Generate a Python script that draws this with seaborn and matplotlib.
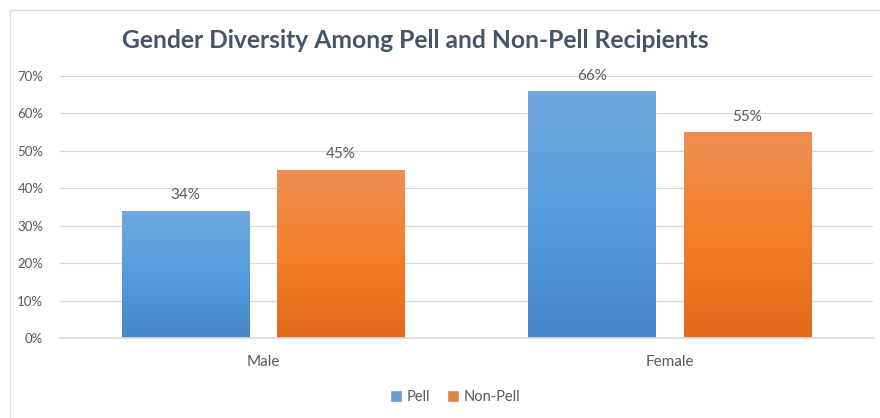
import pandas as pd
import numpy as np
import matplotlib.pyplot as plt
import seaborn as sns
from matplotlib.colors import LinearSegmentedColormap
from matplotlib.patches import Rectangle

# data
genders = ["Male", "Female"]
groups = ["Pell", "Non-Pell"]
pell = [0.34, 0.66]
non_pell = [0.45, 0.55]

df = pd.DataFrame({
    "Gender": genders * 2,
    "Group": [groups[0]] * 2 + [groups[1]] * 2,
    "Share": pell + non_pell,
})

sns.set_theme(style="white")
plt.rcParams['font.family'] = ['Lato', 'DejaVu Sans']
text_col = "#595959"

fig = plt.figure(figsize=(8.8, 4.18), dpi=100)
ax = fig.add_axes([60 / 880, 1 - 338 / 418, 813 / 880, 262 / 418])

palette = {"Pell": "#569DDD", "Non-Pell": "#F4812F"}
sns.barplot(data=df, x="Gender", y="Share", hue="Group", order=genders,
            hue_order=groups, palette=palette, width=0.765, gap=0.18,
            ax=ax, legend=True)

# gradient fill like the excel chart
grads = {
    "Pell": LinearSegmentedColormap.from_list("b", ["#4587C8", "#559CDE", "#70A7DC"]),
    "Non-Pell": LinearSegmentedColormap.from_list("o", ["#E1681A", "#F47F2A", "#F08E54"]),
}
grad = np.linspace(0, 1, 256).reshape(-1, 1)
for cont, g in zip(ax.containers, groups):
    for bar in cont:
        x0, y0 = bar.get_x(), bar.get_y()
        w, h = bar.get_width(), bar.get_height()
        im = ax.imshow(grad, cmap=grads[g], origin="lower", aspect="auto",
                       extent=[x0, x0 + w, y0, y0 + h], zorder=2)
        im.set_clip_path(bar)
        bar.set_facecolor("none")
        bar.set_edgecolor("none")
    ax.bar_label(cont, labels=[f"{v * 100:.0f}%" for v in cont.datavalues],
                 padding=6, fontsize=11, color=text_col)

ax.set_xlim(-0.5, 1.5)
ax.set_ylim(0, 0.7)
ax.set_yticks(np.arange(0, 0.71, 0.1))
ax.set_yticklabels([f"{int(round(t * 100))}%" for t in np.arange(0, 0.71, 0.1)])
ax.yaxis.grid(True, color="#D9D9D9", linewidth=0.9)
ax.set_axisbelow(True)
for s in ["top", "right", "left"]:
    ax.spines[s].set_visible(False)
ax.spines["bottom"].set_color("#D9D9D9")
ax.tick_params(axis="y", labelsize=9.5, labelcolor=text_col, length=0, pad=12)
ax.tick_params(axis="x", labelsize=11, labelcolor=text_col, length=0, pad=12)
ax.set_xlabel("")
ax.set_ylabel("")

leg = ax.legend(loc="center", bbox_to_anchor=(455 / 880, 1 - 397 / 418),
                bbox_transform=fig.transFigure, ncol=2, frameon=False,
                fontsize=10.5, handlelength=0.8, handleheight=0.8,
                handletextpad=0.3, columnspacing=1.2)
for t in leg.get_texts():
    t.set_color(text_col)

fig.text(415 / 880, 1 - 40 / 418, "Gender Diversity Among Pell and Non-Pell Recipients",
         ha="center", va="center", fontsize=17.7, fontweight="bold", color="#44546A")

# chart border
fig.patches.append(Rectangle((10 / 880, -0.1), 1.0, 1 - 10 / 418 + 0.1,
                             transform=fig.transFigure, fill=False,
                             edgecolor="#D9D9D9", linewidth=1))

plt.savefig("out.png", dpi=100)
